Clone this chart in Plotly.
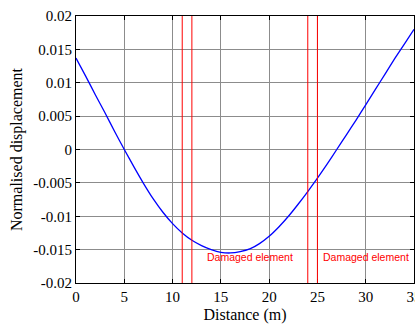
import plotly.graph_objects as go

# Data
distance = list(range(0, 36))
displacement = [0.0137, 0.0110, 0.0082, 0.0055, 0.0027, 0.0000, -0.0026, -0.0051,
                -0.0074, -0.0094, -0.0111, -0.0125, -0.0136, -0.0144, -0.0150,
                -0.0154, -0.0155, -0.0153, -0.0149, -0.0141, -0.0130, -0.0116,
                -0.0100, -0.0082, -0.0063, -0.0043, -0.0022, 0.0000, 0.0022,
                0.0044, 0.0067, 0.0090, 0.0113, 0.0136, 0.0158, 0.0180]
damaged_x = [11, 12, 24, 25]
label_text = "Damaged element"
label_x = [18, 30]
label_y = -0.0161
x_ticks = [0, 5, 10, 15, 20, 25, 30, 35]
y_ticks = [-0.02, -0.015, -0.01, -0.005, 0, 0.005, 0.01, 0.015, 0.02]
y_tick_text = ["-0.02", "-0.015", "-0.01", "-0.005", "0", "0.005", "0.01", "0.015", "0.02"]

fig = go.Figure()
fig.add_trace(go.Scatter(x=distance, y=displacement, mode="lines",
                         line=dict(color="#0000ff", width=1.3, shape="spline", smoothing=0.6),
                         showlegend=False, hoverinfo="skip"))

for xv in damaged_x:
    fig.add_shape(type="line", xref="x", yref="paper", x0=xv, x1=xv, y0=0, y1=1,
                  line=dict(color="#ff0000", width=1), layer="above")

for lx in label_x:
    fig.add_annotation(x=lx, y=label_y, xref="x", yref="y", text=label_text,
                       showarrow=False, font=dict(family="Liberation Sans", size=10.5, color="#ff0000"))

serif = "Liberation Serif"
fig.update_layout(
    width=415, height=324,
    margin=dict(l=76, r=1, t=16, b=41, autoexpand=False),
    plot_bgcolor="white", paper_bgcolor="white",
    font=dict(family=serif, size=14, color="black"),
)
fig.update_xaxes(range=[0, 35], tickvals=x_ticks, ticktext=[str(t) for t in x_ticks],
                 showgrid=True, gridcolor="#8c8c8c", gridwidth=1,
                 showline=True, linecolor="black", linewidth=1.2, mirror="allticks",
                 ticks="inside", ticklen=4, tickcolor="black", zeroline=False,
                 ticklabeloverflow="allow", automargin=False,
                 title=dict(text="Distance (m)", standoff=4, font=dict(family=serif, size=16)),
                 tickfont=dict(family=serif, size=15))
fig.update_yaxes(range=[-0.02, 0.02], tickvals=y_ticks, ticktext=y_tick_text,
                 showgrid=True, gridcolor="#8c8c8c", gridwidth=1,
                 showline=True, linecolor="black", linewidth=1.2, mirror="allticks",
                 ticks="inside", ticklen=4, tickcolor="black", zeroline=False,
                 automargin=False,
                 title=dict(text="Normalised displacement", standoff=6, font=dict(family=serif, size=16)),
                 tickfont=dict(family=serif, size=15))

fig.write_html("out.html")
